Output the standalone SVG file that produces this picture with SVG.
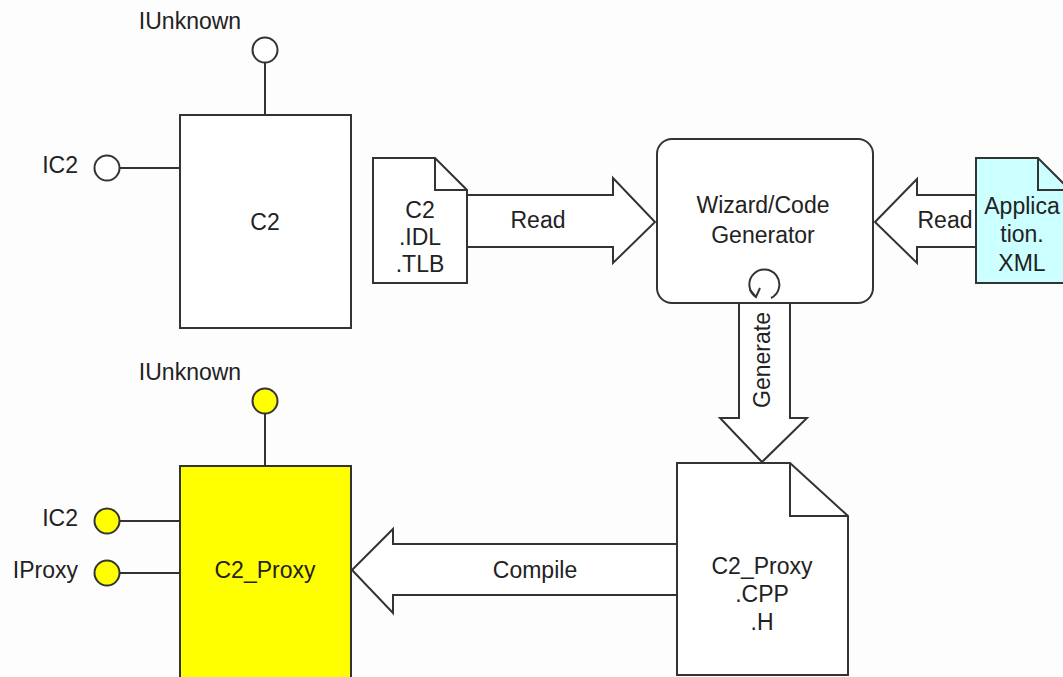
<svg xmlns="http://www.w3.org/2000/svg" width="1063" height="677" viewBox="0 0 1063 677">
<style>
.ln{stroke:#333;stroke-width:2;fill:none}
.sh{stroke:#333;stroke-width:2;fill:#fff}
.ylw{stroke:#333;stroke-width:2;fill:#ffff00}
.t{font-family:"Liberation Sans",Arial,sans-serif;font-size:23px;fill:#222;text-anchor:middle;dominant-baseline:central}
.tr{font-family:"Liberation Sans",Arial,sans-serif;font-size:23px;fill:#222;text-anchor:end;dominant-baseline:central}
</style>
<rect width="1063" height="677" fill="#fdfdfd"/>
<g id="connectors">
  <path class="sh" d="M467,195 H613 V178 L655,222 L613,263 V247 H467 Z"/>
  <text class="t" x="538" y="220">Read</text>
  <path class="sh" d="M976,195 H917 V179 L875,222 L917,263 V247 H976 Z"/>
  <text class="t" x="945" y="220">Read</text>
  <path class="sh" d="M739,303 V418 H720 L762,462 L807,418 H790 V303"/>
  <text class="t" transform="translate(762,360) rotate(-90)">Generate</text>
  <path class="sh" d="M677,544 H393 V529 L352,570 L393,613 V595 H677 Z"/>
  <text class="t" x="535" y="570">Compile</text>
</g>
<g id="c2">
  <line class="ln" x1="265" y1="63" x2="265" y2="115"/>
  <circle class="sh" cx="265" cy="50" r="12.5"/>
  <text class="t" x="190" y="21">IUnknown</text>
  <line class="ln" x1="120" y1="168" x2="180" y2="168"/>
  <circle class="sh" cx="107" cy="168" r="12.5"/>
  <text class="tr" x="78" y="165">IC2</text>
  <rect class="sh" x="180" y="115" width="171" height="213"/>
  <text class="t" x="265" y="222">C2</text>
</g>
<g id="c2-idl">
  <path class="sh" d="M373,158 H435 L467,190 V283 H373 Z"/>
  <path class="ln" d="M435,158 V190 H467"/>
  <text class="t" x="420" y="210">C2</text>
  <text class="t" x="420" y="237">.IDL</text>
  <text class="t" x="420" y="264">.TLB</text>
</g>
<g id="wizard">
  <rect class="sh" x="657" y="139" width="216" height="164" rx="15"/>
  <text class="t" x="763" y="205">Wizard/Code</text>
  <text class="t" x="763" y="235">Generator</text>
  <path class="ln" d="M771,298 A15,15 0 1 0 756,297" stroke-width="1.8"/>
  <path class="ln" d="M750,290 L756,297 L760,288" stroke-width="1.8"/>
</g>
<g id="app-xml">
  <path d="M976,158 H1038 L1070,190 V283 H976 Z" fill="#ccffff" stroke="#333" stroke-width="2"/>
  <path class="ln" d="M1038,158 V190 H1070"/>
  <text class="t" x="1022" y="206">Applica</text>
  <text class="t" x="1022" y="234">tion.</text>
  <text class="t" x="1022" y="263">XML</text>
</g>
<g id="c2-proxy-cpp">
  <path class="sh" d="M677,463 H790 L848,516 V675 H677 Z"/>
  <path class="ln" d="M790,463 V516 H848"/>
  <text class="t" x="762" y="566">C2_Proxy</text>
  <text class="t" x="762" y="594">.CPP</text>
  <text class="t" x="762" y="622">.H</text>
</g>
<g id="c2-proxy">
  <line class="ln" x1="265" y1="414" x2="265" y2="466"/>
  <circle class="ylw" cx="265" cy="401" r="12.5"/>
  <text class="t" x="190" y="372">IUnknown</text>
  <line class="ln" x1="120" y1="521" x2="180" y2="521"/>
  <circle class="ylw" cx="107" cy="521" r="12.5"/>
  <text class="tr" x="78" y="518">IC2</text>
  <line class="ln" x1="120" y1="573" x2="180" y2="573"/>
  <circle class="ylw" cx="107" cy="573" r="12.5"/>
  <text class="tr" x="78" y="570">IProxy</text>
  <rect class="ylw" x="180" y="466" width="171" height="220"/>
  <text class="t" x="265" y="570">C2_Proxy</text>
</g>
</svg>
